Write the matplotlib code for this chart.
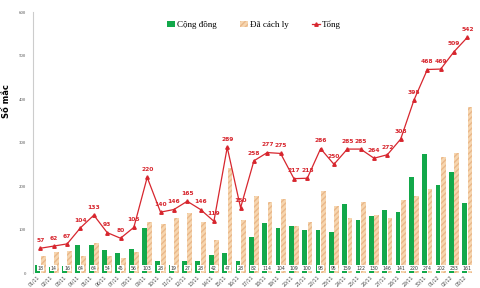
import numpy as np
import matplotlib.pyplot as plt

dates = [f"{d:02d}/11" for d in range(1, 31)] + ["01/12", "02/12", "03/12"]
cong_dong = [18, 14, 16, 64, 64, 54, 45, 56, 103, 28, 19, 27, 28, 42, 47, 28,
             82, 114, 104, 109, 100, 98, 95, 159, 122, 130, 146, 141, 220, 274,
             202, 233, 161]
tong = [57, 62, 67, 104, 133, 93, 80, 105, 220, 140, 146, 165, 146, 119, 289, 150,
        258, 277, 275, 217, 218, 286, 250, 285, 285, 264, 272, 308, 398, 468,
        469, 509, 542]
da_cach_ly = [t - c for t, c in zip(tong, cong_dong)]

green = '#12a84a'
beige = '#f6d6b0'
red = '#d7262e'

fig = plt.figure(figsize=(4.8, 2.88), dpi=100)
ax = fig.add_axes([0.069, 0.052, 0.92, 0.906])

x = np.arange(len(dates))
w = 0.36
b1 = ax.bar(x - w / 2 - 0.02, cong_dong, width=w, color=green, label='Cộng đồng', zorder=2)
b2 = ax.bar(x + w / 2 + 0.02, da_cach_ly, width=w, color=beige, edgecolor='#eab88a',
            hatch='//////', linewidth=0, label='Đã cách ly', zorder=2)
l1, = ax.plot(x, tong, color=red, lw=0.9, marker='^', ms=2.5, label='Tổng', zorder=3)

for i, v in enumerate(tong):
    ax.text(i, v + 12, str(v), ha='center', va='bottom', fontsize=4.3,
            color=red, fontweight='bold', zorder=4)
for i, v in enumerate(cong_dong):
    ax.text(i, 11, str(v), ha='center', va='center', fontsize=3.3, color='#333333',
            zorder=4, bbox=dict(boxstyle='square,pad=0.15', fc='white', ec='none'))

ax.set_xlim(-0.55, len(dates) - 0.45)
ax.set_ylim(0, 600)
ax.set_yticks(range(0, 601, 100))
ax.set_xticks(x)
ax.set_xticklabels(dates, rotation=45, ha='right', fontsize=3.3, color='#444444')
ax.tick_params(axis='y', labelsize=3.5, labelcolor='#555555', length=0, pad=5)
ax.tick_params(axis='x', length=0, pad=1)
for t in ax.get_yticklabels():
    t.set_family('Liberation Serif')

for s in ['top', 'right', 'bottom']:
    ax.spines[s].set_visible(False)
ax.spines['left'].set_color('#cccccc')
ax.spines['left'].set_linewidth(0.8)

ax.set_ylabel('Số mắc', fontsize=6, fontweight='bold')
ax.yaxis.set_label_coords(-0.05, 0.66)

ax.legend([b1, b2, l1], ['Cộng đồng', 'Đã cách ly', 'Tổng'],
          loc='upper center', bbox_to_anchor=(0.5, 1.0), ncol=3, frameon=False,
          prop={'family': 'Liberation Serif', 'size': 6.5}, handlelength=0.9,
          handleheight=0.6, columnspacing=2.6, handletextpad=0.2)

fig.savefig('out.png', dpi=100, facecolor='white')
